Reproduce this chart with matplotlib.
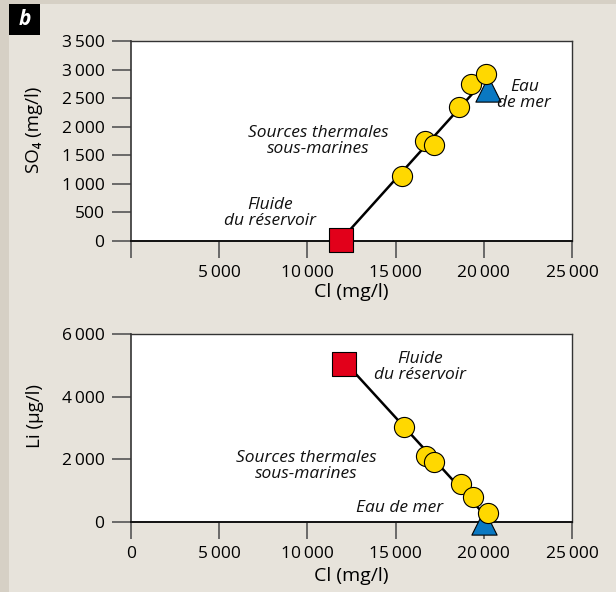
import matplotlib
matplotlib.use("Agg")
import matplotlib.pyplot as plt
from matplotlib.patches import Rectangle

plt.rcParams['font.family'] = ['Open Sans', 'DejaVu Sans']

# --- données ---
# panneau SO4
so4_cl = [15350, 16650, 17150, 18600, 19250, 20100]
so4_val = [1140, 1750, 1680, 2340, 2740, 2930]
so4_res = (11900, 20)        # fluide du réservoir
so4_mer = (20250, 2660)      # eau de mer
so4_ligne_cl = [11900, 19800]
so4_ligne_val = [20, 2730]

# panneau Li
li_cl = [15450, 16700, 17180, 18720, 19400, 20250]
li_val = [3030, 2120, 1900, 1200, 810, 290]
li_res = (12100, 5030)
li_mer = (20000, 0)
li_ligne_cl = [12280, 19800]
li_ligne_val = [5010, 380]

x_ticks = [0, 5000, 10000, 15000, 20000, 25000]
so4_ticks = [0, 500, 1000, 1500, 2000, 2500, 3000, 3500]
li_ticks = [0, 2000, 4000, 6000]

JAUNE = '#ffd800'
ROUGE = '#e2001a'
BLEU = '#0a78c2'
FOND = '#e7e3db'


def fmt(v):
    s = f"{v:,}".replace(",", "\u2009")
    return s


def style_axe(ax, xmax, ymax, yticks, show_x0):
    ax.set_xlim(0, xmax)
    ax.set_ylim(0, ymax)
    ax.set_xticks(x_ticks)
    ax.set_xticklabels([fmt(v) if (v or show_x0) else "" for v in x_ticks])
    ax.set_yticks(yticks)
    ax.set_yticklabels([fmt(v) for v in yticks])
    ax.tick_params(axis='y', length=14, width=1.2, color='#555555', pad=5, labelsize=12.5)
    ax.tick_params(axis='x', length=12, width=1.2, color='#555555', pad=5, labelsize=12.5)
    for s in ['top', 'right']:
        ax.spines[s].set_color('#333333')
        ax.spines[s].set_linewidth(1.0)
    ax.spines['left'].set_color('#333333')
    ax.spines['left'].set_linewidth(1.2)
    ax.spines['bottom'].set_color('#111111')
    ax.spines['bottom'].set_linewidth(1.4)
    ax.set_facecolor('white')


def points(ax, cl, val, res, mer, lcl, lval):
    ax.plot(lcl, lval, color='black', lw=1.8, zorder=3)
    ax.scatter([res[0]], [res[1]], marker='s', s=290, c=ROUGE,
               edgecolors='black', linewidths=0.8, zorder=4, clip_on=False)
    ax.scatter([mer[0]], [mer[1]], marker='^', s=330, c=BLEU,
               edgecolors='black', linewidths=0.8, zorder=4, clip_on=False)
    ax.scatter(cl, val, marker='o', s=210, c=JAUNE,
               edgecolors='black', linewidths=0.8, zorder=5, clip_on=False)


def etiquettes(ax, ylab, xy_y, xy_x):
    ax.set_ylabel(ylab, fontsize=13.5)
    ax.yaxis.set_label_coords(*xy_y)
    ax.yaxis.label.set_va('center')
    ax.set_xlabel("Cl (mg/l)", fontsize=14)
    ax.xaxis.set_label_coords(*xy_x)
    ax.xaxis.label.set_va('center')


fig = plt.figure(figsize=(6.16, 5.92), dpi=100)
fig.patch.set_facecolor(FOND)
fig.patches.append(Rectangle((0, 0), 9 / 616, 1, transform=fig.transFigure,
                             facecolor='#d6d0c5', edgecolor='none', zorder=0))
fig.patches.append(Rectangle((0, 1 - 4 / 592), 1, 4 / 592, transform=fig.transFigure,
                             facecolor='#d6d0c5', edgecolor='none', zorder=0))
fig.patches.append(Rectangle((9 / 616, 1 - 35 / 592), 31 / 616, 31 / 592,
                             transform=fig.transFigure, facecolor='black',
                             edgecolor='none', zorder=1))
fig.text(24.5 / 616, 1 - 19.5 / 592, "b", color='white', fontsize=15,
         fontweight='bold', style='italic', ha='center', va='center')

txt = dict(fontsize=12.5, style='italic', ha='center', va='center',
           color='#111111', linespacing=1.0, zorder=6)

# panneau du haut : SO4
ax1 = fig.add_axes([131 / 616, 1 - 241 / 592, 441 / 616, 200 / 592])
style_axe(ax1, 25000, 3500, so4_ticks, False)
etiquettes(ax1, "SO\u2084 (mg/l)", (-0.221, 0.557), (0.5, -0.255))
points(ax1, so4_cl, so4_val, so4_res, so4_mer, so4_ligne_cl, so4_ligne_val)
ax1.text(7880, 490, "Fluide\ndu réservoir", **txt)
ax1.text(10600, 1750, "Sources thermales\nsous-marines", **txt)
ax1.text(22300, 2560, "Eau\nde mer", **txt)

# panneau du bas : Li
ax2 = fig.add_axes([131 / 616, 1 - 522 / 592, 441 / 616, 188 / 592])
style_axe(ax2, 25000, 6000, li_ticks, True)
etiquettes(ax2, "Li (µg/l)", (-0.217, 0.564), (0.5, -0.287))
points(ax2, li_cl, li_val, li_res, li_mer, li_ligne_cl, li_ligne_val)
ax2.text(16380, 4950, "Fluide\ndu réservoir", **txt)
ax2.text(9920, 1790, "Sources thermales\nsous-marines", **txt)
ax2.text(15200, 450, "Eau de mer", **txt)

fig.savefig("out.png", dpi=100, facecolor=fig.get_facecolor())
